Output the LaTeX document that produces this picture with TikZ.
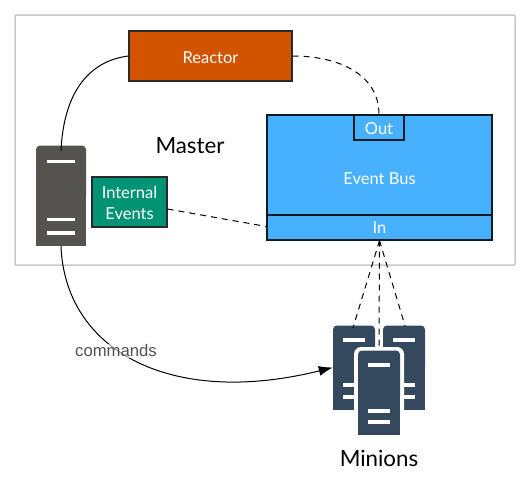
\documentclass[tikz,border=0pt]{standalone}
\usepackage{fontspec}
\setmainfont{Lato}
\newfontfamily\labelfont{Liberation Sans}
\usetikzlibrary{arrows.meta}
\definecolor{framegray}{HTML}{C8C8CE}
\definecolor{reactorfill}{HTML}{D35400}
\definecolor{busfill}{HTML}{47B1FF}
\definecolor{eventfill}{HTML}{019474}
\definecolor{servergray}{HTML}{545350}
\definecolor{minionblue}{HTML}{34495E}
\definecolor{edgedark}{HTML}{2A2A2A}
\newcommand{\nudgetext}[2]{\raisebox{-#1}[\height][\depth]{#2}}
\tikzset{
  px/.style={x=1pt,y=-1pt},
  boxnode/.style={draw=edgedark,line width=1.1pt,inner sep=0pt,text=white,font=\fontsize{16.5}{20}\selectfont,text depth=0pt},
  busbox/.style={boxnode,fill=busfill,draw=black!85!busfill},
  bigtext/.style={font=\fontsize{22.3}{26}\selectfont,text=black,inner sep=0pt},
  conn/.style={black,line width=1pt},
  connd/.style={conn,dash pattern=on 6pt off 5pt},
  holdernode/.style={inner sep=0pt,minimum width=42pt,minimum height=85pt},
}
\begin{document}
\begin{tikzpicture}[px]
\useasboundingbox (0,0) rectangle (530,491);
\fill[white] (0,0) rectangle (530,491);
\draw[framegray,line width=1.5pt,rounded corners=1pt] (15,15) rectangle (515,265);

\node[boxnode,fill=reactorfill,minimum width=163pt,minimum height=50pt] (reactor) at (210.5,56) {\nudgetext{2pt}{Reactor}};
\node[bigtext] (master) at (190,145) {\nudgetext{1pt}{Master}};

% master server
\fill[servergray,rounded corners=4pt] (36,200) -- (36,145.5) -- (86,145.5) -- (86,200) -- cycle;
\fill[servergray] (36,160) rectangle (86,246);
\fill[white] (46.5,159.5) rectangle (75,163);
\fill[white] (46.5,217.5) rectangle (75,221);
\fill[white] (46.5,231) rectangle (75,234.5);
\node[inner sep=0pt,minimum width=50pt,minimum height=101pt] (server) at (61,195.5) {};

\node[boxnode,fill=eventfill,minimum width=75pt,minimum height=50pt,font=\fontsize{16.5}{21}\selectfont,text depth=] (events) at (129.5,202) {\nudgetext{3pt}{\begin{tabular}{@{}c@{}}Internal\\Events\end{tabular}}};

\node[busbox,minimum width=225pt,minimum height=125pt] (bus) at (379.5,177.5) {\nudgetext{1pt}{Event Bus}};
\node[busbox,minimum width=225pt,minimum height=25pt] (in) at (379.5,227.5) {In};
\node[busbox,minimum width=50pt,minimum height=25pt] (out) at (379,127.5) {\nudgetext{1pt}{Out}};

% minions
\foreach \xx in {333,383}{
  \fill[minionblue,rounded corners=4pt] (\xx,370) -- (\xx,325.5) -- (\xx+42,325.5) -- (\xx+42,370) -- cycle;
  \fill[minionblue] (\xx,340) rectangle (\xx+42,410);
  \fill[white] (\xx+10,338.2) rectangle (\xx+32,342);
  \fill[white] (\xx+10,383.2) rectangle (\xx+32,387);
  \fill[white] (\xx+10,395.2) rectangle (\xx+32,399);
}
\fill[white,rounded corners=7pt] (354,420) -- (354,347) -- (404,347) -- (404,420) -- cycle;
\fill[white] (354,400) rectangle (404,437);
\fill[minionblue,rounded corners=4pt] (358,400) -- (358,350.5) -- (400,350.5) -- (400,400) -- cycle;
\fill[minionblue] (358,365) rectangle (400,435);
\fill[white] (368,363.2) rectangle (390,367);
\fill[white] (368,409.2) rectangle (390,413);
\fill[white] (368,420.2) rectangle (390,424);
\node[holdernode] (minionl) at (354,367.5) {};
\node[holdernode] (minionr) at (404,367.5) {};
\node[holdernode] (minionc) at (379,392.5) {};
\node[bigtext] (minionlabel) at (379,458) {Minions};

% connectors
\draw[conn] (reactor.west) .. controls (95,60) and (64,85) .. ([yshift=-6pt]server.north);
\draw[connd] (reactor.east) .. controls (340,56) and (379,75) .. (out.north);
\draw[connd] (events.east) ++(0,7) -- ([yshift=1pt]in.west);
\draw[connd] (in.south) -- ([xshift=-1pt,yshift=-3pt]minionl.north);
\draw[connd] (in.south) -- (minionc.north);
\draw[connd] (in.south) -- ([xshift=1pt,yshift=-1pt]minionr.north);
\draw[conn,-{Latex[length=14pt,width=10pt]}] (server.south) .. controls (65,350) and (170,408) .. (minionl.west);
\node[font=\labelfont\fontsize{16.7}{20}\selectfont,text=black!68,fill=white,fill opacity=0.6,text opacity=1,inner sep=1pt] (cmd) at (116,351) {commands};
\end{tikzpicture}
\end{document}
